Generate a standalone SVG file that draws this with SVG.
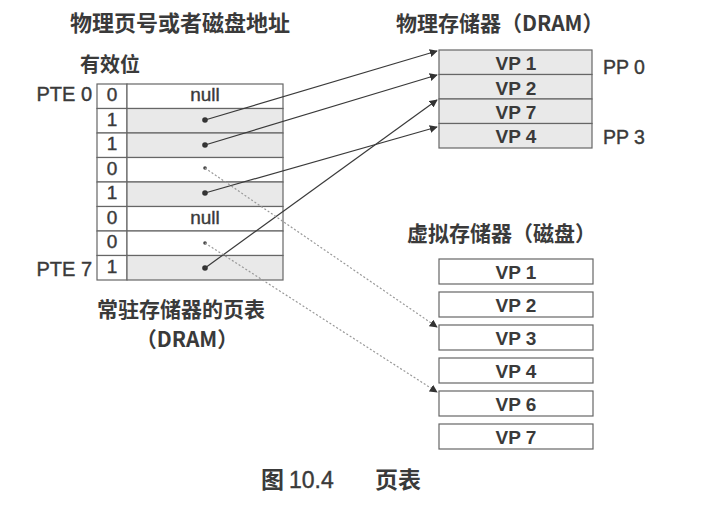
<svg xmlns="http://www.w3.org/2000/svg" width="705" height="506" viewBox="0 0 705 506">
<defs>
<marker id="ah" viewBox="0 0 10 10" refX="9" refY="5" markerWidth="8" markerHeight="8" markerUnits="userSpaceOnUse" orient="auto"><path d="M0,0 L10,5 L0,10 z" fill="#333"/></marker>
<style>
.cjk{font-family:"Noto Sans CJK SC","Noto Sans",sans-serif;fill:#3a3a3a;font-weight:bold;}
.lat{font-family:"Liberation Sans",Arial,sans-serif;fill:#3a3a3a;stroke:#3a3a3a;stroke-width:0.4;}
.cell{stroke:#666;stroke-width:1.2;}
.sh{fill:#e9e9e9;}
.wh{fill:#fff;}
.num{font-family:"Liberation Sans",Arial,sans-serif;font-size:19px;fill:#3a3a3a;stroke:#3a3a3a;stroke-width:0.4;text-anchor:middle;}
.vp{font-family:"Liberation Sans",Arial,sans-serif;font-size:19px;font-weight:bold;fill:#3a3a3a;text-anchor:middle;}
.solid{stroke:#3a3a3a;stroke-width:1.2;fill:none;marker-end:url(#ah);}
.dot{stroke:#999;stroke-width:1.2;stroke-dasharray:2 2;fill:none;marker-end:url(#ah);}
</style>
</defs>
<rect width="705" height="506" fill="#fff"/>

<g id="labels-pt">
<text class="cjk" x="180" y="31" font-size="22" text-anchor="middle">物理页号或者磁盘地址</text>
<text class="cjk" x="110" y="72" font-size="20" text-anchor="middle">有效位</text>
<text class="lat" x="92" y="101" font-size="20" text-anchor="end">PTE 0</text>
<text class="lat" x="92" y="276" font-size="20" text-anchor="end">PTE 7</text>
<text class="cjk" x="181" y="317" font-size="21" text-anchor="middle">常驻存储器的页表</text>
<text class="cjk" x="187" y="347" font-size="21" text-anchor="middle">（DRAM）</text>
</g>

<g id="page-table">
<rect class="cell wh" x="97" y="84" width="30" height="24.5"/><rect class="cell wh" x="127" y="84" width="156" height="24.5"/>
<rect class="cell wh" x="97" y="108.5" width="30" height="24.5"/><rect class="cell sh" x="127" y="108.5" width="156" height="24.5"/>
<rect class="cell wh" x="97" y="133" width="30" height="24.5"/><rect class="cell sh" x="127" y="133" width="156" height="24.5"/>
<rect class="cell wh" x="97" y="157.5" width="30" height="24.5"/><rect class="cell wh" x="127" y="157.5" width="156" height="24.5"/>
<rect class="cell wh" x="97" y="182" width="30" height="24.5"/><rect class="cell sh" x="127" y="182" width="156" height="24.5"/>
<rect class="cell wh" x="97" y="206.5" width="30" height="24.5"/><rect class="cell wh" x="127" y="206.5" width="156" height="24.5"/>
<rect class="cell wh" x="97" y="231" width="30" height="24.5"/><rect class="cell wh" x="127" y="231" width="156" height="24.5"/>
<rect class="cell wh" x="97" y="255.5" width="30" height="24.5"/><rect class="cell sh" x="127" y="255.5" width="156" height="24.5"/>
<text class="num" x="112" y="101">0</text>
<text class="num" x="112" y="126">1</text>
<text class="num" x="112" y="150">1</text>
<text class="num" x="112" y="175">0</text>
<text class="num" x="112" y="199">1</text>
<text class="num" x="112" y="224">0</text>
<text class="num" x="112" y="248">0</text>
<text class="num" x="112" y="273">1</text>
<text class="num" x="205" y="101">null</text>
<text class="num" x="205" y="224">null</text>
<circle cx="205" cy="120" r="2.8" fill="#333"/>
<circle cx="205" cy="145" r="2.8" fill="#333"/>
<circle cx="205" cy="168" r="1.8" fill="#444"/>
<circle cx="205" cy="193" r="2.8" fill="#333"/>
<circle cx="205" cy="243" r="1.8" fill="#444"/>
<circle cx="205" cy="268" r="2.8" fill="#333"/>
</g>

<g id="physical-memory">
<text class="cjk" x="396" y="31" font-size="21">物理存储器（DRAM）</text>
<rect class="cell sh" x="439" y="50" width="153" height="24.5"/>
<rect class="cell sh" x="439" y="74.5" width="153" height="24.5"/>
<rect class="cell sh" x="439" y="99" width="153" height="24.5"/>
<rect class="cell sh" x="439" y="123.5" width="153" height="24.5"/>
<text class="vp" x="516" y="70">VP 1</text>
<text class="vp" x="516" y="95">VP 2</text>
<text class="vp" x="516" y="119">VP 7</text>
<text class="vp" x="516" y="143">VP 4</text>
<text class="lat" x="603" y="74" font-size="19.5">PP 0</text>
<text class="lat" x="603" y="144" font-size="19.5">PP 3</text>
</g>

<g id="virtual-memory">
<text class="cjk" x="407" y="241" font-size="21">虚拟存储器（磁盘）</text>
<rect class="cell wh" x="439" y="259" width="154" height="25"/>
<rect class="cell wh" x="439" y="292" width="154" height="25"/>
<rect class="cell wh" x="439" y="325" width="154" height="25"/>
<rect class="cell wh" x="439" y="358" width="154" height="25"/>
<rect class="cell wh" x="439" y="391" width="154" height="25"/>
<rect class="cell wh" x="439" y="424" width="154" height="25"/>
<text class="vp" x="516" y="279">VP 1</text>
<text class="vp" x="516" y="312">VP 2</text>
<text class="vp" x="516" y="345">VP 3</text>
<text class="vp" x="516" y="378">VP 4</text>
<text class="vp" x="516" y="411">VP 6</text>
<text class="vp" x="516" y="444">VP 7</text>
</g>

<g id="connectors">
<line class="solid" x1="205" y1="120" x2="437" y2="51"/>
<line class="solid" x1="205" y1="145" x2="437" y2="75"/>
<line class="solid" x1="205" y1="193" x2="437" y2="127"/>
<line class="solid" x1="205" y1="268" x2="437" y2="100"/>
<line class="dot" x1="205" y1="168" x2="437" y2="327"/>
<line class="dot" x1="205" y1="243" x2="437" y2="392"/>
</g>

<g id="caption">
<text class="cjk" x="261" y="488" font-size="23">图</text>
<text class="lat" x="289" y="488" font-size="23">10.4</text>
<text class="cjk" x="375" y="488" font-size="23">页表</text>
</g>
</svg>
